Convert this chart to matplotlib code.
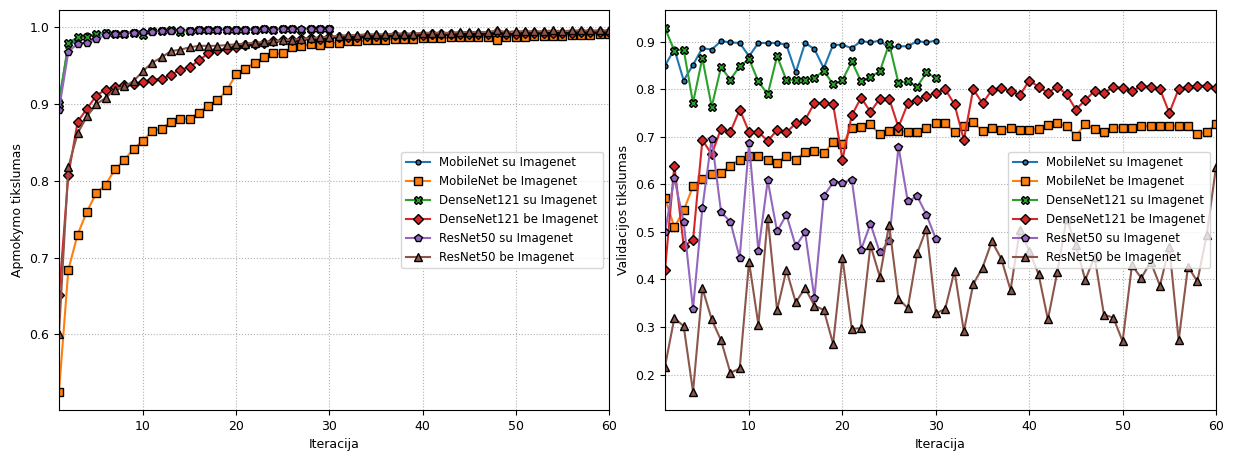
import matplotlib
matplotlib.use("Agg")
import matplotlib.pyplot as plt

# iteracijos
iter_su = list(range(1, 31))
iter_be = list(range(1, 61))

# apmokymo tikslumas
mobilenet_su_train = [0.905, 0.975, 0.985, 0.990, 0.990, 0.994, 0.992, 0.993, 0.994, 0.995,
                      0.995, 0.996, 0.996, 0.995, 0.996, 0.997, 0.997, 0.997, 0.997, 0.998,
                      0.997, 0.998, 0.998, 0.998, 0.998, 0.998, 0.998, 0.999, 0.998, 0.999]
mobilenet_be_train = [0.525, 0.684, 0.730, 0.760, 0.784, 0.795, 0.815, 0.827, 0.842, 0.852,
                      0.865, 0.868, 0.877, 0.880, 0.881, 0.889, 0.898, 0.905, 0.918, 0.939,
                      0.946, 0.954, 0.961, 0.966, 0.966, 0.974, 0.976, 0.978, 0.977, 0.980,
                      0.980, 0.982, 0.982, 0.983, 0.984, 0.984, 0.985, 0.985, 0.985, 0.986,
                      0.986, 0.986, 0.987, 0.987, 0.987, 0.987, 0.988, 0.984, 0.988, 0.988,
                      0.988, 0.989, 0.989, 0.989, 0.989, 0.990, 0.990, 0.990, 0.991, 0.991]
densenet_su_train = [0.900, 0.980, 0.987, 0.988, 0.992, 0.993, 0.991, 0.992, 0.993, 0.990,
                     0.995, 0.995, 0.996, 0.994, 0.995, 0.996, 0.996, 0.997, 0.996, 0.997,
                     0.997, 0.997, 0.998, 0.997, 0.998, 0.998, 0.997, 0.998, 0.998, 0.998]
densenet_be_train = [0.651, 0.807, 0.877, 0.894, 0.911, 0.919, 0.922, 0.925, 0.926, 0.929,
                     0.932, 0.933, 0.938, 0.945, 0.948, 0.957, 0.966, 0.970, 0.972, 0.975,
                     0.977, 0.978, 0.980, 0.982, 0.983, 0.984, 0.985, 0.986, 0.985, 0.987,
                     0.987, 0.988, 0.988, 0.989, 0.989, 0.989, 0.990, 0.990, 0.990, 0.990,
                     0.991, 0.991, 0.991, 0.991, 0.992, 0.991, 0.992, 0.994, 0.992, 0.992,
                     0.993, 0.993, 0.993, 0.993, 0.993, 0.993, 0.994, 0.994, 0.994, 0.994]
resnet_su_train = [0.893, 0.968, 0.979, 0.980, 0.985, 0.990, 0.991, 0.992, 0.993, 0.994,
                   0.994, 0.995, 0.995, 0.996, 0.995, 0.996, 0.996, 0.996, 0.997, 0.997,
                   0.997, 0.997, 0.998, 0.997, 0.998, 0.998, 0.998, 0.998, 0.998, 0.998]
resnet_be_train = [0.601, 0.818, 0.862, 0.884, 0.900, 0.908, 0.919, 0.923, 0.930, 0.943,
                   0.954, 0.961, 0.969, 0.971, 0.974, 0.976, 0.976, 0.976, 0.977, 0.978,
                   0.979, 0.980, 0.981, 0.982, 0.983, 0.984, 0.985, 0.986, 0.987, 0.988,
                   0.989, 0.990, 0.990, 0.991, 0.991, 0.991, 0.992, 0.992, 0.992, 0.993,
                   0.993, 0.993, 0.993, 0.994, 0.994, 0.994, 0.994, 0.996, 0.994, 0.995,
                   0.995, 0.995, 0.995, 0.996, 0.995, 0.996, 0.996, 0.996, 0.996, 0.996]

# validacijos tikslumas
mobilenet_su_val = [0.849, 0.884, 0.818, 0.851, 0.886, 0.883, 0.901, 0.898, 0.897, 0.869,
                    0.897, 0.897, 0.897, 0.893, 0.835, 0.897, 0.884, 0.844, 0.893, 0.893,
                    0.886, 0.901, 0.898, 0.902, 0.886, 0.890, 0.890, 0.901, 0.898, 0.902]
mobilenet_be_val = [0.571, 0.510, 0.545, 0.596, 0.611, 0.622, 0.624, 0.639, 0.652, 0.660,
                    0.660, 0.652, 0.645, 0.660, 0.652, 0.668, 0.670, 0.665, 0.688, 0.684,
                    0.719, 0.721, 0.726, 0.705, 0.712, 0.712, 0.710, 0.710, 0.719, 0.728,
                    0.728, 0.710, 0.722, 0.730, 0.712, 0.719, 0.714, 0.719, 0.714, 0.714,
                    0.717, 0.724, 0.728, 0.722, 0.702, 0.726, 0.717, 0.710, 0.719, 0.719,
                    0.719, 0.722, 0.722, 0.722, 0.722, 0.722, 0.722, 0.705, 0.709, 0.727]
densenet_su_val = [0.928, 0.881, 0.883, 0.771, 0.865, 0.763, 0.846, 0.820, 0.848, 0.863,
                   0.816, 0.789, 0.869, 0.819, 0.819, 0.819, 0.823, 0.839, 0.810, 0.819,
                   0.858, 0.816, 0.826, 0.837, 0.895, 0.813, 0.816, 0.805, 0.835, 0.823]
densenet_be_val = [0.419, 0.639, 0.471, 0.482, 0.693, 0.663, 0.717, 0.710, 0.757, 0.710,
                   0.710, 0.691, 0.714, 0.709, 0.728, 0.735, 0.771, 0.771, 0.768, 0.652,
                   0.745, 0.782, 0.752, 0.780, 0.780, 0.720, 0.770, 0.778, 0.785, 0.792,
                   0.800, 0.768, 0.693, 0.800, 0.770, 0.798, 0.803, 0.796, 0.787, 0.818,
                   0.805, 0.792, 0.805, 0.789, 0.757, 0.777, 0.796, 0.792, 0.804, 0.803,
                   0.796, 0.806, 0.805, 0.800, 0.750, 0.800, 0.805, 0.807, 0.807, 0.803]
resnet_su_val = [0.499, 0.613, 0.521, 0.338, 0.550, 0.696, 0.542, 0.521, 0.446, 0.686,
                 0.460, 0.608, 0.501, 0.536, 0.470, 0.499, 0.361, 0.575, 0.604, 0.603,
                 0.610, 0.463, 0.517, 0.457, 0.480, 0.679, 0.564, 0.575, 0.536, 0.485]
resnet_be_val = [0.217, 0.319, 0.302, 0.164, 0.382, 0.316, 0.272, 0.204, 0.213, 0.437,
                 0.305, 0.530, 0.336, 0.420, 0.352, 0.382, 0.345, 0.336, 0.265, 0.446,
                 0.296, 0.298, 0.472, 0.406, 0.515, 0.359, 0.340, 0.455, 0.507, 0.329,
                 0.338, 0.418, 0.291, 0.390, 0.425, 0.480, 0.444, 0.378, 0.503, 0.460,
                 0.411, 0.316, 0.415, 0.528, 0.472, 0.399, 0.448, 0.326, 0.320, 0.270,
                 0.430, 0.403, 0.437, 0.387, 0.469, 0.272, 0.427, 0.396, 0.493, 0.636]

labels = ["MobileNet su Imagenet", "MobileNet be Imagenet",
          "DenseNet121 su Imagenet", "DenseNet121 be Imagenet",
          "ResNet50 su Imagenet", "ResNet50 be Imagenet"]

styles = [
    dict(color="#1f77b4", marker="o", markersize=3.5),
    dict(color="#ff7f0e", marker="s", markersize=5.5),
    dict(color="#2ca02c", marker="X", markersize=6),
    dict(color="#d62728", marker="D", markersize=5.5),
    dict(color="#9467bd", marker="p", markersize=6),
    dict(color="#8c564b", marker="^", markersize=6),
]


def draw_panel(ax, series, ylabel):
    for (x, y), lab, st in zip(series, labels, styles):
        ax.plot(x, y, label=lab, linewidth=1.5, markeredgecolor="black",
                markeredgewidth=1.0, **st)
    ax.set_xlim(1, 60)
    ax.set_xlabel("Iteracija", fontsize=9)
    ax.set_ylabel(ylabel, fontsize=9)
    ax.tick_params(labelsize=9)
    ax.grid(linestyle=":", color="#b0b0b0", linewidth=0.8)
    ax.legend(loc="center right", fontsize=8.5)


fig = plt.figure(figsize=(12.38, 4.54), dpi=100)
ax1 = fig.add_axes([59 / 1238, 44 / 454, 550 / 1238, 400 / 454])
ax2 = fig.add_axes([665 / 1238, 44 / 454, 551 / 1238, 400 / 454])

draw_panel(ax1, [(iter_su, mobilenet_su_train), (iter_be, mobilenet_be_train),
                 (iter_su, densenet_su_train), (iter_be, densenet_be_train),
                 (iter_su, resnet_su_train), (iter_be, resnet_be_train)],
           "Apmokymo tikslumas")
draw_panel(ax2, [(iter_su, mobilenet_su_val), (iter_be, mobilenet_be_val),
                 (iter_su, densenet_su_val), (iter_be, densenet_be_val),
                 (iter_su, resnet_su_val), (iter_be, resnet_be_val)],
           "Validacijos tikslumas")

fig.savefig("out.png", dpi=100)
